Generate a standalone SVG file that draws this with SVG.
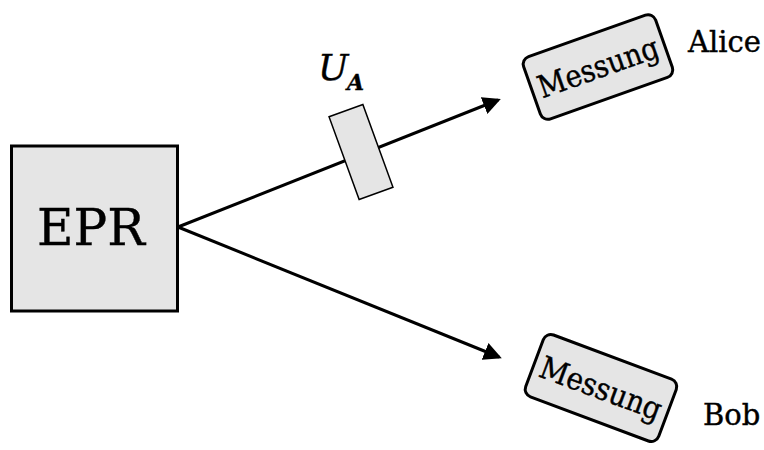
<svg xmlns="http://www.w3.org/2000/svg" width="764" height="450" viewBox="0 0 764 450">
<style>
.box{fill:#e5e5e5;stroke:#000;stroke-width:3}
.thin{fill:#e5e5e5;stroke:#000;stroke-width:1.5}
.lbl{font-family:"DejaVu Serif","Liberation Serif",serif;fill:#000;stroke:#000;stroke-width:0.4}
.conn{stroke:#000;stroke-width:3;fill:none}
</style>
<defs>
<marker id="ah" markerWidth="6" markerHeight="6" refX="5" refY="3" orient="auto" markerUnits="strokeWidth">
<path d="M0,0 L6,3 L0,6 Z" fill="#000"/>
</marker>
</defs>
<g id="connectors">
<line class="conn" x1="178" y1="227" x2="498" y2="100" marker-end="url(#ah)"/>
<line class="conn" x1="178" y1="227" x2="499" y2="357" marker-end="url(#ah)"/>
</g>
<g id="epr">
<rect class="box" x="11.5" y="146" width="166" height="165"/>
<text class="lbl" x="91" y="245" font-size="50" text-anchor="middle">EPR</text>
</g>
<g id="ua">
<rect class="thin" x="-18" y="-44" width="36" height="88" transform="translate(361,152) rotate(-20)"/>
<text class="lbl" x="318" y="80" font-size="36" font-style="italic">U</text>
<text class="lbl" x="347" y="90" font-size="22" font-style="italic" font-weight="bold">A</text>
</g>
<g id="alice-messung" transform="translate(598,67) rotate(-19.5)">
<rect class="box" x="-70" y="-33" width="140" height="66" rx="8"/>
<text class="lbl" x="0" y="11" font-size="31" text-anchor="middle" textLength="126" lengthAdjust="spacingAndGlyphs">Messung</text>
</g>
<g id="bob-messung" transform="translate(601,388) rotate(20.5)">
<rect class="box" x="-71" y="-33" width="142" height="66" rx="8"/>
<text class="lbl" x="0" y="11" font-size="31" text-anchor="middle" textLength="128" lengthAdjust="spacingAndGlyphs">Messung</text>
</g>
<g id="alice">
<text class="lbl" x="688" y="52" font-size="29">Alice</text>
</g>
<g id="bob">
<text class="lbl" x="703" y="425" font-size="29">Bob</text>
</g>
</svg>
